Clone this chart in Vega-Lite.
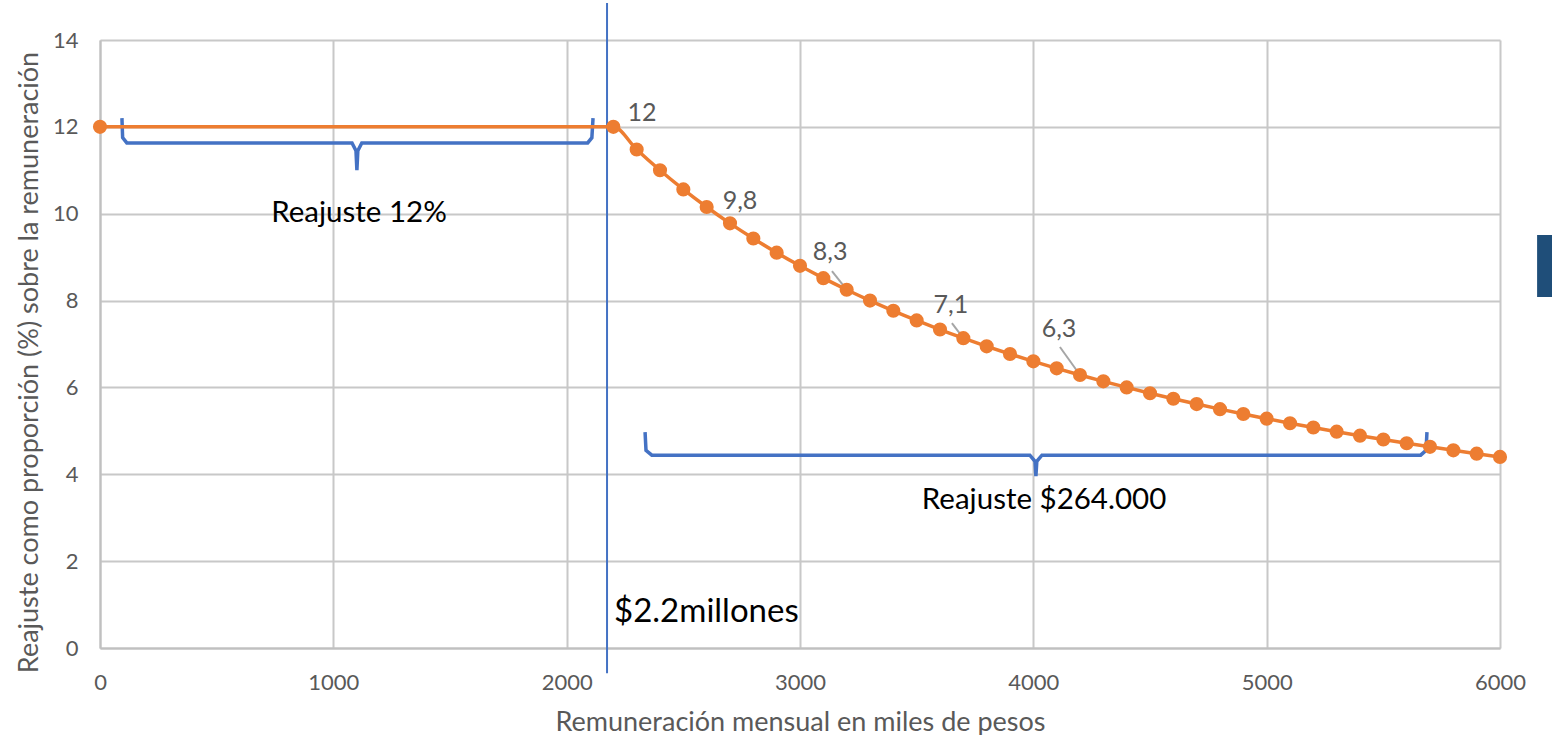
{
  "$schema": "https://vega.github.io/schema/vega-lite/v6.json",
  "autosize": {"type": "none"},
  "width": 1400,
  "height": 608,
  "padding": {"left": 100, "top": 40, "right": 52, "bottom": 87},
  "background": "white",
  "config": {
    "font": "Lato",
    "view": {"stroke": null},
    "axis": {
      "gridColor": "#c8c8c8",
      "gridWidth": 2,
      "domainColor": "#c0c0c0",
      "domainWidth": 2,
      "ticks": false,
      "labelColor": "#595959",
      "labelFont": "Lato",
      "labelFontSize": 22,
      "titleColor": "#595959",
      "titleFont": "Lato",
      "titleFontWeight": "normal",
      "titleFontSize": 27
    }
  },
  "datasets": {
    "curve": [
      {"x": 0, "y": 12},
      {"x": 2200, "y": 12},
      {"x": 2300, "y": 11.478},
      {"x": 2400, "y": 11.0},
      {"x": 2500, "y": 10.56},
      {"x": 2600, "y": 10.154},
      {"x": 2700, "y": 9.778},
      {"x": 2800, "y": 9.429},
      {"x": 2900, "y": 9.103},
      {"x": 3000, "y": 8.8},
      {"x": 3100, "y": 8.516},
      {"x": 3200, "y": 8.25},
      {"x": 3300, "y": 8.0},
      {"x": 3400, "y": 7.765},
      {"x": 3500, "y": 7.543},
      {"x": 3600, "y": 7.333},
      {"x": 3700, "y": 7.135},
      {"x": 3800, "y": 6.947},
      {"x": 3900, "y": 6.769},
      {"x": 4000, "y": 6.6},
      {"x": 4100, "y": 6.439},
      {"x": 4200, "y": 6.286},
      {"x": 4300, "y": 6.14},
      {"x": 4400, "y": 6.0},
      {"x": 4500, "y": 5.867},
      {"x": 4600, "y": 5.739},
      {"x": 4700, "y": 5.617},
      {"x": 4800, "y": 5.5},
      {"x": 4900, "y": 5.388},
      {"x": 5000, "y": 5.28},
      {"x": 5100, "y": 5.176},
      {"x": 5200, "y": 5.077},
      {"x": 5300, "y": 4.981},
      {"x": 5400, "y": 4.889},
      {"x": 5500, "y": 4.8},
      {"x": 5600, "y": 4.714},
      {"x": 5700, "y": 4.632},
      {"x": 5800, "y": 4.552},
      {"x": 5900, "y": 4.475},
      {"x": 6000, "y": 4.4}
    ],
    "braces": [
      {"b": "a", "o": 1, "x": 94, "y": 12.2},
      {"b": "a", "o": 2, "x": 97, "y": 11.75},
      {"b": "a", "o": 3, "x": 115, "y": 11.63},
      {"b": "a", "o": 4, "x": 1080, "y": 11.63},
      {"b": "a", "o": 5, "x": 1097, "y": 11.45},
      {"b": "a", "o": 6, "x": 1101, "y": 11.0},
      {"b": "a", "o": 7, "x": 1105, "y": 11.45},
      {"b": "a", "o": 8, "x": 1122, "y": 11.63},
      {"b": "a", "o": 9, "x": 2090, "y": 11.63},
      {"b": "a", "o": 10, "x": 2108, "y": 11.75},
      {"b": "a", "o": 11, "x": 2113, "y": 12.2},
      {"b": "b", "o": 1, "x": 2336, "y": 4.97},
      {"b": "b", "o": 2, "x": 2340, "y": 4.55},
      {"b": "b", "o": 3, "x": 2365, "y": 4.44},
      {"b": "b", "o": 4, "x": 3985, "y": 4.44},
      {"b": "b", "o": 5, "x": 4007, "y": 4.3},
      {"b": "b", "o": 6, "x": 4011, "y": 3.96},
      {"b": "b", "o": 7, "x": 4015, "y": 4.3},
      {"b": "b", "o": 8, "x": 4037, "y": 4.44},
      {"b": "b", "o": 9, "x": 5660, "y": 4.44},
      {"b": "b", "o": 10, "x": 5683, "y": 4.55},
      {"b": "b", "o": 11, "x": 5687, "y": 4.97}
    ],
    "leaders": [
      {"x": 3137, "y": 8.68, "x2": 3200, "y2": 8.25},
      {"x": 3651, "y": 7.48, "x2": 3700, "y2": 7.135},
      {"x": 4114, "y": 6.93, "x2": 4200, "y2": 6.286}
    ],
    "valueLabels": [
      {"x": 2323, "y": 12.32, "label": "12"},
      {"x": 2743, "y": 10.3, "label": "9,8"},
      {"x": 3129, "y": 9.12, "label": "8,3"},
      {"x": 3647, "y": 7.9, "label": "7,1"},
      {"x": 4110, "y": 7.35, "label": "6,3"}
    ],
    "notes": [
      {"x": 1110, "y": 10.02, "label": "Reajuste 12%"},
      {"x": 4046, "y": 3.41, "label": "Reajuste $264.000"}
    ],
    "threshold": [
      {"x": 2173, "y": 14.85, "y2": -0.58, "label": "$2.2millones", "ly": 0.83}
    ],
    "box": [
      {"x": 6159, "x2": 6230, "y": 9.51, "y2": 8.08}
    ]
  },
  "encoding": {
    "x": {
      "field": "x",
      "type": "quantitative",
      "scale": {"domain": [0, 6000], "nice": false, "zero": false},
      "axis": {
        "values": [0, 1000, 2000, 3000, 4000, 5000, 6000],
        "format": "d",
        "labelPadding": 24,
        "title": "Remuneración mensual en miles de pesos",
        "titleX": 700,
        "titleY": 74,
        "titleAlign": "center",
        "titleBaseline": "middle",
        "labelFlush": false
      }
    },
    "y": {
      "field": "y",
      "type": "quantitative",
      "scale": {"domain": [0, 14], "nice": false, "zero": false},
      "axis": {
        "values": [0, 2, 4, 6, 8, 10, 12, 14],
        "labelPadding": 22,
        "title": "Reajuste como proporción (%) sobre la remuneración",
        "titleAngle": -90,
        "titleX": -71,
        "titleY": 322,
        "titleAlign": "center",
        "titleBaseline": "middle"
      }
    }
  },
  "layer": [
    {
      "data": {"name": "box"},
      "mark": {"type": "rect", "color": "#1f4e79", "clip": false},
      "encoding": {"x2": {"field": "x2"}, "y2": {"field": "y2"}}
    },
    {
      "data": {"name": "threshold"},
      "mark": {"type": "rule", "color": "#4472c4", "strokeWidth": 2, "clip": false},
      "encoding": {"y2": {"field": "y2"}}
    },
    {
      "data": {"name": "threshold"},
      "mark": {"type": "text", "align": "left", "baseline": "middle", "fontSize": 33, "color": "#000000", "dx": 7},
      "encoding": {"y": {"field": "ly", "type": "quantitative"}, "text": {"field": "label"}}
    },
    {
      "data": {"name": "braces"},
      "mark": {"type": "line", "color": "#4472c4", "strokeWidth": 3.5, "interpolate": "linear"},
      "encoding": {"detail": {"field": "b"}, "order": {"field": "o", "type": "quantitative"}}
    },
    {
      "data": {"name": "leaders"},
      "mark": {"type": "rule", "color": "#a6a6a6", "strokeWidth": 2},
      "encoding": {"x2": {"field": "x2"}, "y2": {"field": "y2"}}
    },
    {
      "data": {"name": "curve"},
      "mark": {"type": "line", "color": "#ed7d31", "strokeWidth": 3.5, "interpolate": "monotone"},
      "encoding": {"order": {"field": "x", "type": "quantitative"}}
    },
    {
      "data": {"name": "curve"},
      "mark": {"type": "circle", "color": "#ed7d31", "opacity": 1, "size": 200, "clip": false}
    },
    {
      "data": {"name": "valueLabels"},
      "mark": {"type": "text", "align": "center", "baseline": "middle", "fontSize": 25, "color": "#595959"},
      "encoding": {"text": {"field": "label"}}
    },
    {
      "data": {"name": "notes"},
      "mark": {"type": "text", "align": "center", "baseline": "middle", "fontSize": 29.5, "color": "#000000"},
      "encoding": {"text": {"field": "label"}}
    }
  ]
}
